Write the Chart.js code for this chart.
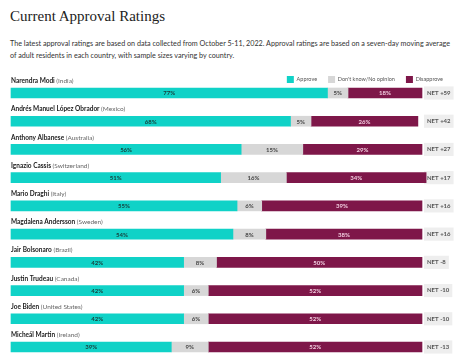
<!DOCTYPE html>
<html>
<head>
<meta charset="utf-8">
<script src="https://cdn.jsdelivr.net/npm/chart.js@4/dist/chart.umd.min.js"></script>
<style>
  html, body { margin: 0; padding: 0; background: #fff; }
  body { width: 460px; height: 358px; position: relative; overflow: hidden; }
  #title {
    position: absolute; left: 10px; top: 8px;
    font-family: "Liberation Serif", serif; font-size: 15px; color: #222;
  }
  #sub {
    position: absolute; left: 10px; top: 38px; width: 450px;
    font-family: Lato, sans-serif; font-size: 7.2px; line-height: 12px; color: #333;
  }
  #wrap { position: absolute; left: 0; top: 0; width: 460px; height: 358px; }
</style>
</head>
<body>
<div id="title">Current Approval Ratings</div>
<div id="sub">The latest approval ratings are based on data collected from October 5-11, 2022. Approval ratings are based on a seven-day moving average<br>of adult residents in each country, with sample sizes varying by country.</div>
<div id="wrap"><canvas id="chart"></canvas></div>
<script>
const leaders = ['Narendra Modi', 'Andrés Manuel López Obrador', 'Anthony Albanese', 'Ignazio Cassis', 'Mario Draghi',
  'Magdalena Andersson', 'Jair Bolsonaro', 'Justin Trudeau', 'Joe Biden', 'Micheál Martin'];
const countries = ['India', 'Mexico', 'Australia', 'Switzerland', 'Italy', 'Sweden', 'Brazil', 'Canada', 'United States', 'Ireland'];
const approve = [77, 68, 56, 51, 55, 54, 42, 42, 42, 39];
const noOpinion = [5, 5, 15, 16, 6, 8, 8, 6, 6, 9];
const disapprove = [18, 26, 29, 34, 39, 38, 50, 52, 52, 52];
const netScores = [59, 42, 27, 17, 16, 16, -8, -10, -10, -13];

const TEAL = '#10d2c7';
const GREY = '#d7d7d7';
const MAROON = '#7e1749';
const valueColors = ['#17403d', '#444', '#f2cfe0'];

// names above each bar + percentages inside the bars
const rowLabels = {
  id: 'rowLabels',
  afterDatasetsDraw(chart) {
    const ctx = chart.ctx;
    const base = chart.getDatasetMeta(0);
    ctx.save();
    ctx.textBaseline = 'middle';
    base.data.forEach((bar, i) => {
      const y = bar.y - 12;
      ctx.textAlign = 'left';
      ctx.font = 'bold 6.5px Lato';
      ctx.fillStyle = '#222';
      ctx.fillText(leaders[i], chart.chartArea.left, y);
      const w = ctx.measureText(leaders[i] + ' ').width;
      ctx.font = '6.5px Lato';
      ctx.fillStyle = '#666';
      ctx.fillText('(' + countries[i] + ')', chart.chartArea.left + w, y);
    });
    ctx.font = 'bold 6px Lato';
    ctx.textAlign = 'center';
    chart.data.datasets.forEach((ds, d) => {
      chart.getDatasetMeta(d).data.forEach((bar, i) => {
        ctx.fillStyle = valueColors[d];
        ctx.fillText(ds.data[i] + '%', (bar.x + bar.base) / 2, bar.y + 0.5);
      });
    });
    ctx.restore();
  }
};

new Chart(document.getElementById('chart'), {
  type: 'bar',
  data: {
    labels: leaders,
    datasets: [
      { label: 'Approve', data: approve, backgroundColor: TEAL },
      { label: "Don't know/No opinion", data: noOpinion, backgroundColor: GREY },
      { label: 'Disapprove', data: disapprove, backgroundColor: MAROON }
    ]
  },
  options: {
    indexAxis: 'y',
    responsive: true,
    maintainAspectRatio: false,
    animation: false,
    datasets: { bar: { barThickness: 10, borderWidth: 0, clip: false } },
    layout: { padding: { top: 65, left: 11, right: 6, bottom: 11 } },
    plugins: {
      legend: {
        align: 'end',
        labels: {
          boxWidth: 7, boxHeight: 7, padding: 11,
          color: '#555', font: { family: 'Lato', size: 5.5 }
        }
      },
      tooltip: { enabled: false }
    },
    scales: {
      x: { stacked: true, min: 0, max: 100, display: false },
      y: {
        stacked: true,
        position: 'right',
        offset: false,
        grid: { display: false, drawTicks: false },
        border: { display: false },
        afterFit(scale) { scale.width = 32; },
        ticks: {
          padding: 5,
          color: '#555',
          font: { family: 'Lato', size: 6, weight: 'bold' },
          showLabelBackdrop: true,
          backdropColor: '#eeeeee',
          backdropPadding: { x: 3, y: 3 },
          callback: (v, i) => 'NET ' + (netScores[i] > 0 ? '+' : '') + netScores[i]
        }
      }
    }
  },
  plugins: [rowLabels]
});
</script>
</body>
</html>
